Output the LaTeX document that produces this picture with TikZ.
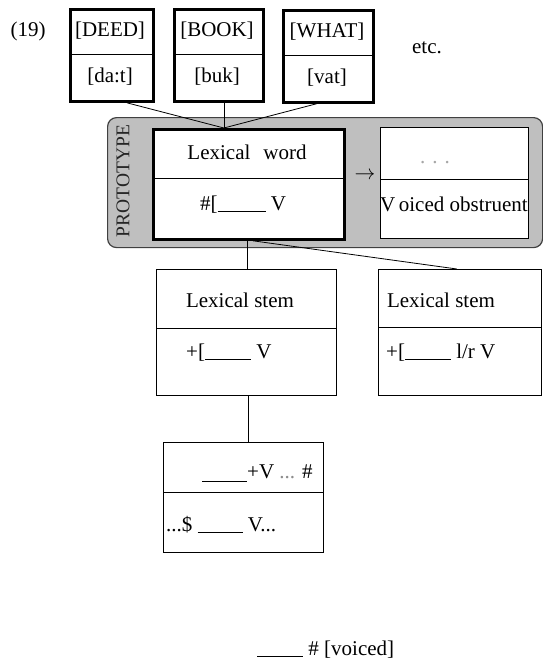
\documentclass[tikz,border=0pt]{standalone}
\usepackage{fontspec}
\setmainfont{Liberation Serif}
\usetikzlibrary{positioning}
\newcommand{\gap}[1]{\rule[-1.5pt]{#1}{0.7pt}}

\begin{document}
\begin{tikzpicture}[x=1pt,y=-1pt,
  every node/.style={font=\fontsize{21}{23}\selectfont, inner sep=0pt},
  cell/.style={draw, line width=0.8pt, fill=white, anchor=north west},
  boldcell/.style={cell, line width=2.8pt},
  link/.style={line width=0.8pt},
  divider/.style={line width=0.8pt}]
\useasboundingbox (0,0) rectangle (543,661);

\node[draw=black!75, fill=black!25, line width=1.2pt, rounded corners=9pt,
  minimum width=435pt, minimum height=130pt, anchor=north west] (proto) at (107,117) {};
\node[rotate=90, font=\fontsize{19.5}{21}\selectfont, text=black!85] (protolabel) at (123,181) {PROTOTYPE};

\node (exnum) at (28,31) {(19)};
\node (etc) at (427,48) {etc.};

\node[boldcell, minimum width=83pt, minimum height=92pt] (deed) at (69,8) {};
\node[boldcell, minimum width=89pt, minimum height=92pt] (book) at (173,8) {};
\node[boldcell, minimum width=90pt, minimum height=92pt] (what) at (282,9) {};
\draw[divider] (deed.west |- 0,54) -- (deed.east |- 0,54);
\draw[divider] (book.west |- 0,54) -- (book.east |- 0,54);
\draw[divider] (what.west |- 0,55) -- (what.east |- 0,55);
\node (deedword) at (110,31) {[DEED]};
\node (deedsound) at (110,77) {[da:t]};
\node (bookword) at (217,31) {[BOOK]};
\node (booksound) at (217,77) {[buk]};
\node (whatword) at (327,32) {[WHAT]};
\node (whatsound) at (327,78) {[vat]};

\node[boldcell, minimum width=191pt, minimum height=110pt] (lexword) at (152,128) {};
\draw[divider] (lexword.west |- 0,178) -- (lexword.east |- 0,178);
\node (lexwordname) at (247,152) {Lexical\hspace{13pt}word};
\node[anchor=base west] (lexwordenv) at (200,210) {\#[\gap{48pt}\ V};

\node (arrow) at (365,176) {$\rightarrow$};

\node[cell, minimum width=148pt, minimum height=111pt] (outbox) at (380,127) {};
\draw[divider] (outbox.west |- 0,179) -- (outbox.east |- 0,179);
\node[text=black!35] (outdots) at (435,163) {. . .};
\node[anchor=base west] (outname) at (380,211) {V\,oiced obstruent};

\node[cell, minimum width=180pt, minimum height=126pt] (stemL) at (156,269) {};
\draw[divider] (stemL.west |- 0,328) -- (stemL.east |- 0,328);
\node (stemLname) at (240,300) {Lexical stem};
\node[anchor=base west] (stemLenv) at (186,358) {+[\gap{46pt}\ V};

\node[cell, minimum width=163pt, minimum height=126pt] (stemR) at (378,269) {};
\draw[divider] (stemR.west |- 0,327) -- (stemR.east |- 0,327);
\node (stemRname) at (441,300) {Lexical stem};
\node[anchor=base west] (stemRenv) at (386,358) {+[\gap{46pt}\ l/r V};

\node[cell, minimum width=160pt, minimum height=110pt] (syll) at (163,442) {};
\draw[divider] (syll.west |- 0,492) -- (syll.east |- 0,492);
\node[anchor=base west] (syllup) at (202,478) {\rule[-4pt]{45pt}{0.7pt}+V \textcolor{black!45}{...} \#};
\node[anchor=base west] (sylllo) at (166,531) {...\$ \gap{45pt} V...};

\node[anchor=base west] (voicing) at (257,655) {\gap{46pt}\ \# [voiced]};

\coordinate (hub) at ([xshift=-25pt]lexword.north);
\draw[link] ([xshift=15pt]deed.south) -- (hub);
\draw[link] ([xshift=5pt]book.south) -- (hub);
\draw[link] ([xshift=-12pt]what.south) -- (hub);
\draw[link] ([xshift=-2pt]lexword.south) -- ([xshift=-2pt]lexword.south |- stemL.north);
\draw[link] ([xshift=4pt]lexword.south) -- ([xshift=-3pt]stemR.north);
\draw[link] ([xshift=2pt]stemL.south) -- ([xshift=2pt]stemL.south |- syll.north);
\end{tikzpicture}
\end{document}
